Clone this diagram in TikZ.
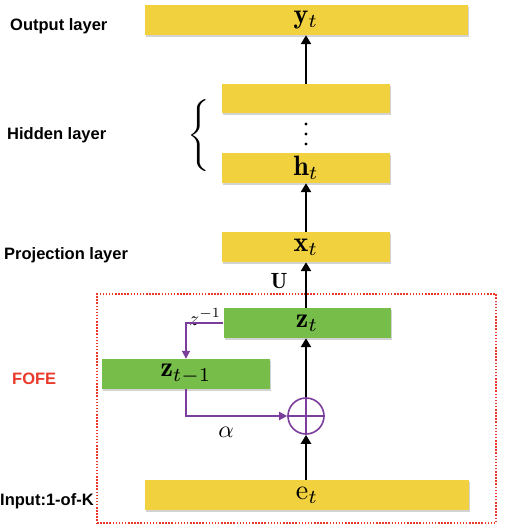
\documentclass[tikz,border=0pt]{standalone}
\usepackage{fontspec}
\usetikzlibrary{arrows.meta,shadows}
\newfontfamily\labfont{Liberation Sans}
\definecolor{ly}{HTML}{F2D13F}
\definecolor{lg}{HTML}{77BD4A}
\definecolor{pu}{HTML}{7B3E9C}
\definecolor{rd}{HTML}{E8392B}
\newcommand{\bm}[1]{\scalebox{2.8}{$#1$}}
\tikzset{
  x=1pt,y=1pt,
  layer/.style={draw=none,inner sep=0pt,
    drop shadow={shadow xshift=1.2pt,shadow yshift=-1.5pt,opacity=0.35}},
  ybox/.style={layer,fill=ly},
  gbox/.style={layer,fill=lg},
  lab/.style={anchor=west,inner sep=0pt,font=\labfont\bfseries\fontsize{16.5}{18}\selectfont},
  arr/.style={line width=2.6pt,-{Triangle[width=10pt,length=9pt]}},
  parr/.style={pu,line width=1.8pt,-{Triangle[width=8pt,length=8pt]}},
}
\begin{document}
\begin{tikzpicture}
\useasboundingbox (0,0) rectangle (506,-528);
% layers
\node[ybox,minimum width=323pt,minimum height=30pt] (out) at (306,-20) {\bm{\mathbf{y}_t}};
\node[ybox,minimum width=168pt,minimum height=29pt] (hid) at (306,-98.5) {};
\node[ybox,minimum width=168pt,minimum height=30pt] (ht) at (306,-168) {\bm{\mathbf{h}_t}};
\node[ybox,minimum width=168pt,minimum height=30pt] (xt) at (306,-247) {\bm{\mathbf{x}_t}};
\node[gbox,minimum width=167pt,minimum height=30pt] (zt) at (307,-323) {\bm{\mathbf{z}_t}};
\node[gbox,minimum width=168pt,minimum height=30pt] (ztm) at (186,-374) {\bm{\mathbf{z}_{t-1}}};
\node[ybox,minimum width=324pt,minimum height=30pt] (et) at (307,-495) {\bm{\mathrm{e}_t}};
\node[circle,draw=pu,line width=1.6pt,minimum size=36pt,inner sep=0pt] (plus) at (306,-416) {};
\draw[pu,line width=1.6pt] (plus.north) -- (plus.south) (plus.west) -- (plus.east);
% dots
\foreach \yy in {-124,-134,-144}
  \fill (306,\yy) circle (1.6pt);
% brace
\node[inner sep=0pt] (brace) at (199,-136) {\scalebox{2.8}[2.4]{$\Bigg\{$}};
% FOFE box
\node[draw=rd,line width=1.5pt,dash pattern=on 1.5pt off 1.6pt,minimum width=399pt,minimum height=229pt,inner sep=0pt] (fofe) at (296.5,-408.5) {};
% labels
\node[lab] (l1) at (10,-26) {Output layer};
\node[lab] (l2) at (7,-135) {Hidden layer};
\node[lab] (l3) at (4,-255) {Projection layer};
\node[lab,text=rd] (l4) at (12,-379) {FOFE};
\node[lab] (l5) at (0,-501) {Input:1-of-K};
\node[inner sep=0pt] (U) at (279,-281) {\scalebox{2.2}{$\mathbf{U}$}};
\node[inner sep=0pt] (zinv) at (205,-317) {\scalebox{2.0}{$z^{-1}$}};
\node[inner sep=0pt] (alpha) at (226,-432) {\scalebox{2.4}{$\alpha$}};
% arrows
\draw[arr] (hid.north) -- (out.south -| hid.north);
\draw[arr] (xt.north) -- (ht.south);
\draw[arr] (zt.north -| xt.north) -- (xt.south);
\draw[arr] (plus.north) -- (zt.south -| plus.north);
\draw[arr] (et.north -| plus.south) -- (plus.south);
\draw[parr] (zt.west) -| (ztm.north);
\draw[parr] (ztm.south) |- (plus.west);
\end{tikzpicture}
\end{document}
